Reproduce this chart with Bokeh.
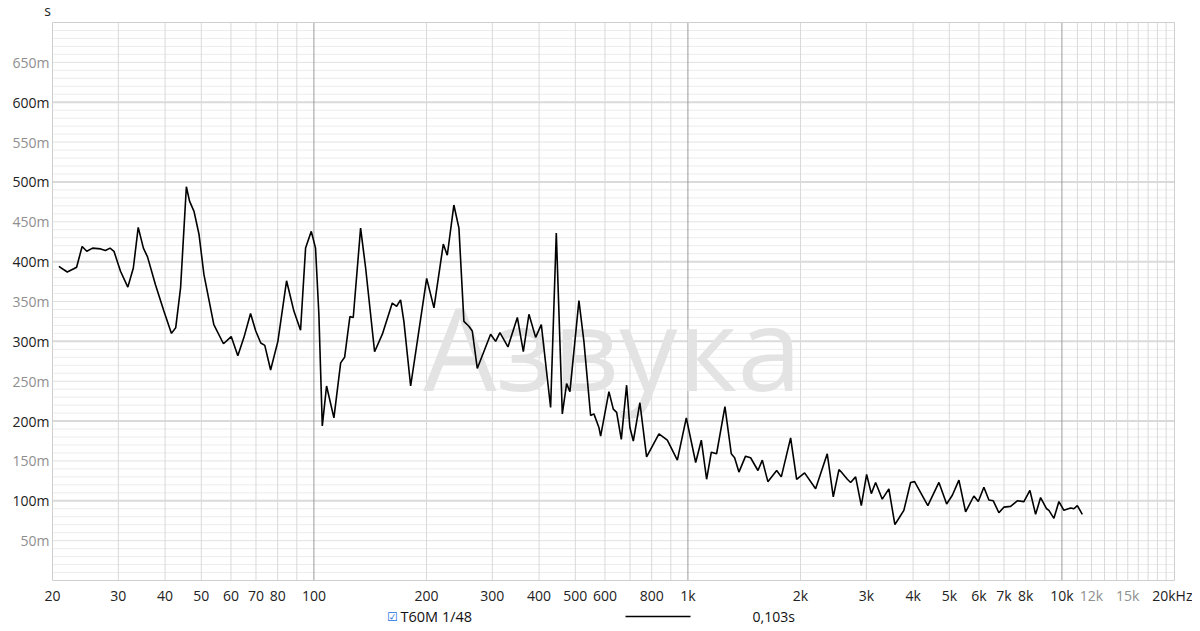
from bokeh.plotting import figure
from bokeh.models import (Range1d, FixedTicker, Label, CustomJSTickFormatter,
                          LinearAxis, LogAxis, Arrow)
from bokeh.embed import file_html
from bokeh.resources import INLINE

# ---------------- data ----------------
freq_hz = [20.8, 21.9, 22.8, 23.2, 24.0, 24.7, 25.6, 26.9, 27.7, 28.5,
           29.2, 30.4, 31.8, 32.9, 33.9, 35.0, 35.9, 37.7, 39.7, 41.6,
           42.7, 44.0, 45.6, 46.5, 47.8, 49.3, 50.8, 54.0, 57.3, 60.1,
           62.6, 65.0, 67.7, 69.9, 72.1, 73.9, 76.6, 80.1, 84.5, 88.4,
           92.1, 95.0, 98.4, 101.0, 103.1, 105.3, 108.1, 113.1, 117.9, 120.8,
           124.8, 127.4, 133.3, 137.5, 145.3, 152.4, 162.0, 166.4, 170.5, 174.0,
           181.4, 189.0, 200.2, 209.4, 221.8, 227.3, 236.7, 244.2, 251.8, 259.6,
           265.1, 273.4, 296.8, 306.1, 314.3, 330.2, 349.9, 363.0, 375.8, 391.6,
           405.5, 429.4, 444.7, 461.5, 473.9, 483.6, 511.2, 527.1, 549.3, 560.6,
           578.1, 584.3, 614.9, 631.7, 644.8, 663.6, 685.6, 699.7, 714.5, 744.1,
           775.4, 836.7, 880.9, 937.0, 990.1, 1049, 1086, 1122, 1155, 1193,
           1256, 1306, 1333, 1369, 1426, 1471, 1539, 1581, 1636, 1727,
           1777, 1882, 1953, 2051, 2195, 2358, 2447, 2534, 2561, 2669,
           2723, 2808, 2908, 3005, 3093, 3176, 3309, 3446, 3576, 3687,
           3779, 3939, 4037, 4380, 4690, 4918, 5093, 5304, 5527, 5816,
           5976, 6185, 6379, 6554, 6784, 6995, 7291, 7598, 7914, 8211,
           8505, 8770, 9101, 9230, 9519, 9817, 10123, 10551, 10767, 10996, 11338]

t60_s = [0.394, 0.387, 0.391, 0.393, 0.419, 0.413, 0.417, 0.416, 0.414, 0.417,
         0.413, 0.388, 0.368, 0.392, 0.443, 0.417, 0.406, 0.371, 0.338, 0.310,
         0.317, 0.367, 0.494, 0.476, 0.463, 0.434, 0.384, 0.321, 0.297, 0.306,
         0.282, 0.305, 0.335, 0.313, 0.298, 0.295, 0.264, 0.300, 0.376, 0.338,
         0.314, 0.417, 0.438, 0.417, 0.334, 0.194, 0.244, 0.204, 0.273, 0.280,
         0.331, 0.330, 0.442, 0.392, 0.287, 0.309, 0.348, 0.344, 0.352, 0.325,
         0.244, 0.300, 0.379, 0.342, 0.422, 0.408, 0.471, 0.442, 0.325, 0.319,
         0.313, 0.266, 0.309, 0.300, 0.311, 0.293, 0.330, 0.287, 0.334, 0.305,
         0.321, 0.217, 0.436, 0.209, 0.247, 0.237, 0.351, 0.300, 0.207, 0.209,
         0.192, 0.181, 0.237, 0.215, 0.211, 0.177, 0.245, 0.192, 0.175, 0.223,
         0.155, 0.184, 0.176, 0.151, 0.204, 0.148, 0.176, 0.127, 0.161, 0.159,
         0.218, 0.159, 0.154, 0.136, 0.156, 0.154, 0.138, 0.151, 0.124, 0.138,
         0.130, 0.179, 0.127, 0.135, 0.115, 0.159, 0.105, 0.139, 0.137, 0.127,
         0.123, 0.130, 0.094, 0.133, 0.109, 0.123, 0.102, 0.115, 0.070, 0.080,
         0.088, 0.123, 0.124, 0.094, 0.123, 0.096, 0.107, 0.126, 0.086, 0.106,
         0.099, 0.117, 0.101, 0.100, 0.085, 0.092, 0.093, 0.100, 0.099, 0.113,
         0.083, 0.104, 0.090, 0.088, 0.078, 0.099, 0.088, 0.091, 0.090, 0.094, 0.083]

x_ticks_dark = [20, 30, 40, 50, 60, 70, 80, 100, 200, 300, 400, 500, 600, 800,
                1000, 2000, 3000, 4000, 5000, 6000, 7000, 8000, 10000, 20000]
x_ticks_grey = [12000, 15000]
y_ticks_dark = [0.1, 0.2, 0.3, 0.4, 0.5, 0.6]
y_ticks_grey = [0.05, 0.15, 0.25, 0.35, 0.45, 0.55, 0.65]

F_MIN, F_MAX = 20, 20000
T_MIN, T_MAX = 0.0, 0.7

series_name = "T60M 1/48"
series_value = "0,103s"
y_unit = "s"
watermark = "Азвука"

FONT = "Open Sans"
DARK = "#222222"
GREY = "#8f8f8f"

X_FMT = """
if (tick >= 20000) { return "20kHz"; }
if (tick >= 1000) { return (tick / 1000) + "k"; }
return String(tick);
"""
Y_FMT = "return Math.round(tick * 1000) + 'm';"

# ---------------- layout (pixels) ----------------
W, H = 1192, 631
AREA_L, AREA_R, AREA_T, AREA_B = 52, 1174, 22, 580
px_per_decade = (AREA_R - AREA_L) / 3.0
px_per_s = (AREA_B - AREA_T) / (T_MAX - T_MIN)
x_start = F_MIN / 10 ** (AREA_L / px_per_decade)
x_end = F_MAX * 10 ** ((W - AREA_R) / px_per_decade)
y_start = T_MIN - (H - AREA_B) / px_per_s
y_end = T_MAX + AREA_T / px_per_s

p = figure(width=W, height=H, x_axis_type="log",
           x_range=Range1d(x_start, x_end), y_range=Range1d(y_start, y_end),
           x_axis_location=None, y_axis_location=None,
           output_backend="svg", toolbar_location=None,
           min_border_left=0, min_border_right=0, min_border_top=0, min_border_bottom=0)
p.background_fill_color = "white"
p.border_fill_color = "white"
p.outline_line_color = None
p.xgrid.visible = False
p.ygrid.visible = False

# ---------------- grid lines of the plot area ----------------
x_minor = (list(range(30, 100, 10)) + list(range(200, 1000, 100)) +
           list(range(2000, 10000, 1000)) + list(range(11000, 20000, 1000)))
x_major = [100, 1000, 10000]
y_fine = [i / 100 for i in range(1, 70) if i % 5 != 0]
y_mid = [i / 100 for i in range(5, 70, 10)]
y_major = [i / 100 for i in range(10, 70, 10)]


def hlines(vals, color, width):
    p.segment(x0=[F_MIN] * len(vals), x1=[F_MAX] * len(vals), y0=vals, y1=vals,
              line_color=color, line_width=width)


def vlines(vals, color, width):
    p.segment(x0=vals, x1=vals, y0=[T_MIN] * len(vals), y1=[T_MAX] * len(vals),
              line_color=color, line_width=width)


hlines(y_fine, "#ececec", 1)
hlines(y_mid, "#e2e2e2", 1)
hlines(y_major, "#dadada", 2)
vlines(x_minor, "#d9d9d9", 1)
vlines(x_major, "#9a9a9a", 1)
p.quad(left=[F_MIN], right=[F_MAX], bottom=[T_MIN], top=[T_MAX],
       fill_color=None, line_color="#cfcfcf", line_width=1)

# watermark
p.add_layout(Label(x=612, y=H - 345, x_units="screen", y_units="screen",
                   text=watermark, text_font=FONT, text_font_size="116px",
                   text_color="#e3e3e3", text_align="center",
                   text_baseline="alphabetic"))

# curve
p.line(freq_hz, t60_s, line_color="black", line_width=1.6, level="overlay")


# ---------------- axes ----------------
def style_axis(ax, color, standoff):
    ax.axis_line_color = None
    ax.major_tick_line_color = None
    ax.minor_tick_line_color = None
    ax.major_tick_out = 0
    ax.major_tick_in = 0
    ax.minor_tick_out = 0
    ax.minor_tick_in = 0
    ax.major_label_text_font = FONT
    ax.major_label_text_font_size = "14px"
    ax.major_label_text_color = color
    ax.major_label_standoff = standoff


for ticks, color in ((x_ticks_dark, DARK), (x_ticks_grey, GREY)):
    ax = LogAxis(ticker=FixedTicker(ticks=ticks),
                 formatter=CustomJSTickFormatter(code=X_FMT), fixed_location=T_MIN)
    style_axis(ax, color, 5)
    p.add_layout(ax, "below")
for ticks, color in ((y_ticks_dark, DARK), (y_ticks_grey, GREY)):
    ax = LinearAxis(ticker=FixedTicker(ticks=ticks),
                    formatter=CustomJSTickFormatter(code=Y_FMT), fixed_location=F_MIN)
    style_axis(ax, color, 3)
    p.add_layout(ax, "left")

# unit label
p.add_layout(Label(x=47, y=H - 9.5, x_units="screen", y_units="screen", text=y_unit,
                   text_font=FONT, text_font_size="14px", text_color=DARK,
                   text_align="center", text_baseline="middle"))

# ---------------- legend row ----------------
LEG_Y = H - 616
p.add_layout(Label(x=392, y=LEG_Y, x_units="screen", y_units="screen", text="☑",
                   text_font="DejaVu Sans", text_font_size="12px", text_color="#1a6fe0",
                   text_align="center", text_baseline="middle"))
p.add_layout(Label(x=400, y=LEG_Y, x_units="screen", y_units="screen", text=series_name,
                   text_font=FONT, text_font_size="14.5px", text_color="#111111",
                   text_align="left", text_baseline="middle"))
p.add_layout(Arrow(start=None, end=None, x_start=625, y_start=LEG_Y, x_end=690, y_end=LEG_Y,
                   start_units="screen", end_units="screen",
                   line_color="black", line_width=1.5))
p.add_layout(Label(x=752, y=LEG_Y, x_units="screen", y_units="screen", text=series_value,
                   text_font=FONT, text_font_size="14px", text_color="#111111",
                   text_align="left", text_baseline="middle"))

open("out.html", "w").write(file_html(p, INLINE))
